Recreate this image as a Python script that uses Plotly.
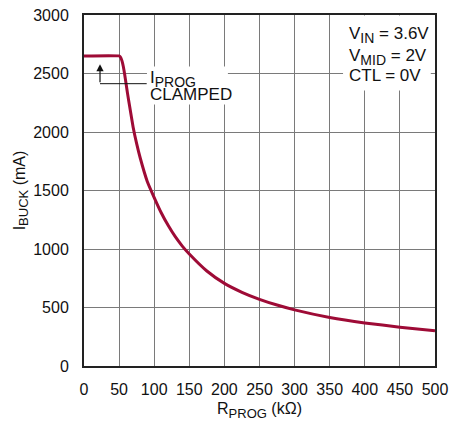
import plotly.graph_objects as go

# Data
r_prog_kohm = [0, 50, 52, 54, 56, 58, 60, 62, 65, 70, 75, 80, 90, 100, 110, 120, 130, 140, 150,
               175, 200, 225, 250, 275, 300, 350, 400, 450, 500]
i_buck_ma = [2650, 2650, 2640, 2610, 2560, 2490, 2410, 2330, 2220, 2040, 1900, 1780, 1580, 1440, 1310,
             1200, 1105, 1025, 957, 812, 706, 630, 570, 521, 480, 415, 368, 332, 302]

x_ticks = [0, 50, 100, 150, 200, 250, 300, 350, 400, 450, 500]
y_ticks = [0, 500, 1000, 1500, 2000, 2500, 3000]

FONT = "Liberation Sans, Arial, Helvetica, sans-serif"
CURVE = "#9E0B36"


def sub(s, px):
    return "<sub><span style='font-size:%dpx'>%s</span></sub>" % (px, s)


fig = go.Figure()
fig.add_trace(go.Scatter(
    x=r_prog_kohm, y=i_buck_ma, mode="lines",
    line=dict(color=CURVE, width=3, shape="spline", smoothing=0.4),
    hoverinfo="skip", showlegend=False,
))

axis_common = dict(
    showgrid=True, gridcolor="#7a7a7a", gridwidth=1.3,
    showline=True, linecolor="#222", linewidth=2, mirror=True,
    ticks="", zeroline=False,
    tickfont=dict(family=FONT, size=16, color="#111"),
)

fig.update_xaxes(
    range=[0, 500], tickvals=x_ticks, ticktext=[str(v) for v in x_ticks],
    ticklabelstandoff=8,
    title=dict(text="R" + sub("PROG", 13) + " (kΩ)", font=dict(family=FONT, size=16, color="#111"), standoff=6),
    **axis_common,
)
fig.update_yaxes(
    range=[0, 3000], tickvals=y_ticks, ticktext=[str(v) for v in y_ticks],
    ticklabelstandoff=10,
    title=dict(text="I" + sub("BUCK", 13) + " (mA)", font=dict(family=FONT, size=16, color="#111"), standoff=4),
    **axis_common,
)

# white boxes behind annotation texts (cover gridlines)
fig.add_shape(type="rect", xref="x", yref="y", x0=89.7, x1=205, y0=2236, y1=2560,
              fillcolor="white", line=dict(width=0), layer="between")
fig.add_shape(type="rect", xref="x", yref="y", x0=369, x1=494, y0=2355, y1=2995,
              fillcolor="white", line=dict(width=0), layer="between")

# clamp arrow
fig.add_shape(type="line", xref="x", yref="y", x0=22.8, x1=89.3, y0=2413, y1=2413,
              line=dict(color="#111", width=1))
fig.add_annotation(x=22.8, y=2580, ax=22.8, ay=2413, xref="x", yref="y", axref="x", ayref="y",
                   text="", showarrow=True, arrowhead=2, arrowsize=1.2, arrowwidth=1.2, arrowcolor="#111")

tfont = dict(family=FONT, size=17, color="#111")
fig.add_annotation(x=91, y=2452, xref="x", yref="y", xanchor="left", yanchor="middle",
                   text="I" + sub("PROG", 14), showarrow=False, font=tfont)
fig.add_annotation(x=91, y=2320, xref="x", yref="y", xanchor="left", yanchor="middle",
                   text="CLAMPED", showarrow=False, font=tfont)

fig.add_annotation(x=375, y=2830, xref="x", yref="y", xanchor="left", yanchor="middle",
                   text="V" + sub("IN", 14) + " = 3.6V", showarrow=False, font=tfont)
fig.add_annotation(x=375, y=2645, xref="x", yref="y", xanchor="left", yanchor="middle",
                   text="V" + sub("MID", 14) + " = 2V", showarrow=False, font=tfont)
fig.add_annotation(x=375, y=2479, xref="x", yref="y", xanchor="left", yanchor="middle",
                   text="CTL = 0V", showarrow=False, font=tfont)

fig.update_layout(
    width=464, height=421,
    margin=dict(l=84, r=29, t=15, b=55, autoexpand=False),
    paper_bgcolor="white", plot_bgcolor="white",
    font=dict(family=FONT, color="#111"),
)

fig.write_html("out.html", config={"displayModeBar": False},
               post_script="document.body.style.margin='0';")
